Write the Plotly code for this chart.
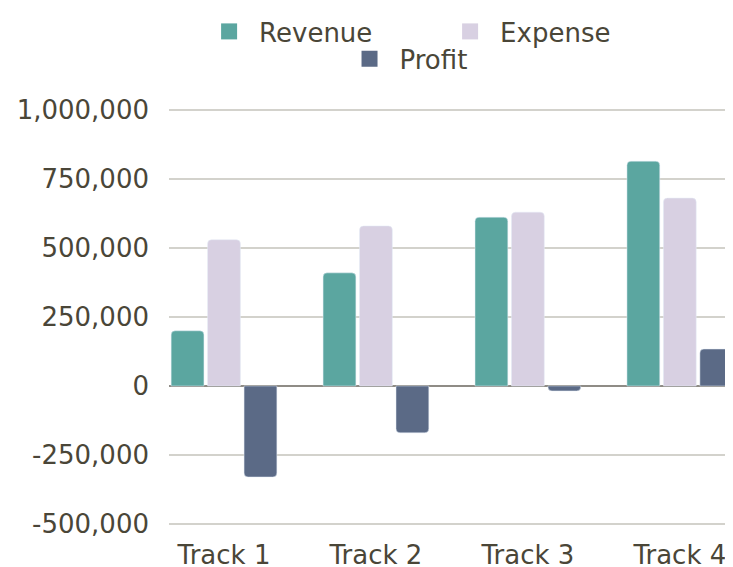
import plotly.graph_objects as go

categories = ["Track 1", "Track 2", "Track 3", "Track 4"]
revenue = [200000, 410000, 612000, 815000]
expense = [530000, 580000, 630000, 681000]
profit = [-330000, -170000, -18000, 134000]
tick_vals = [-500000, -250000, 0, 250000, 500000, 750000, 1000000]
tick_text = ["-500,000", "-250,000", "0", "250,000", "500,000", "750,000", "1,000,000"]

FONT = "DejaVu Sans"
TXT = "#4a4638"
FS = 26

series = [
    ("Revenue", revenue, "#5ba6a0", "legend"),
    ("Expense", expense, "#d8d0e2", "legend"),
    ("Profit", profit, "#5b6a86", "legend2"),
]

fig = go.Figure()
for name, vals, col, lg in series:
    fig.add_trace(go.Bar(name=name, x=categories, y=vals, legendgroup=name,
                         marker=dict(color=col, cornerradius=4), showlegend=False))
for name, vals, col, lg in series:
    # legend entry with a larger square key
    fig.add_trace(go.Scatter(name=name, x=[None], y=[None], mode="markers", legendgroup=name,
                             marker=dict(symbol="square", size=20, color=col), legend=lg,
                             showlegend=True))

fig.update_layout(
    width=725, height=559,
    margin=dict(l=161, r=0, t=101, b=42, autoexpand=False),
    paper_bgcolor="white", plot_bgcolor="white",
    font=dict(family=FONT, size=FS, color=TXT),
    barmode="group", bargap=0.28, bargroupgap=0.1,
    legend=dict(orientation="h", xref="container", yref="container",
                x=0.596, xanchor="center", y=1.0, yanchor="top",
                bgcolor="rgba(0,0,0,0)",
                font=dict(size=FS, color=TXT), entrywidth=176, itemwidth=50),
    legend2=dict(orientation="h", xref="container", yref="container",
                 x=0.549, xanchor="center", y=0.951, yanchor="top",
                 bgcolor="rgba(0,0,0,0)",
                 font=dict(size=FS, color=TXT), itemwidth=50),
    xaxis=dict(range=[-0.362, 3.35], showgrid=False, showline=False, ticks="",
               automargin=False, ticklabelstandoff=12,
               tickfont=dict(size=FS, color=TXT)),
    yaxis=dict(range=[-504000, 1004000], tickvals=tick_vals, ticktext=tick_text,
               showgrid=True, gridcolor="#d3d2cc", gridwidth=1.5,
               zeroline=True, zerolinecolor="#8f8c86", zerolinewidth=2,
               automargin=False,
               ticks="", ticklabelstandoff=19, tickfont=dict(size=FS, color=TXT)),
    showlegend=True,
)

fig.write_html("out.html")
